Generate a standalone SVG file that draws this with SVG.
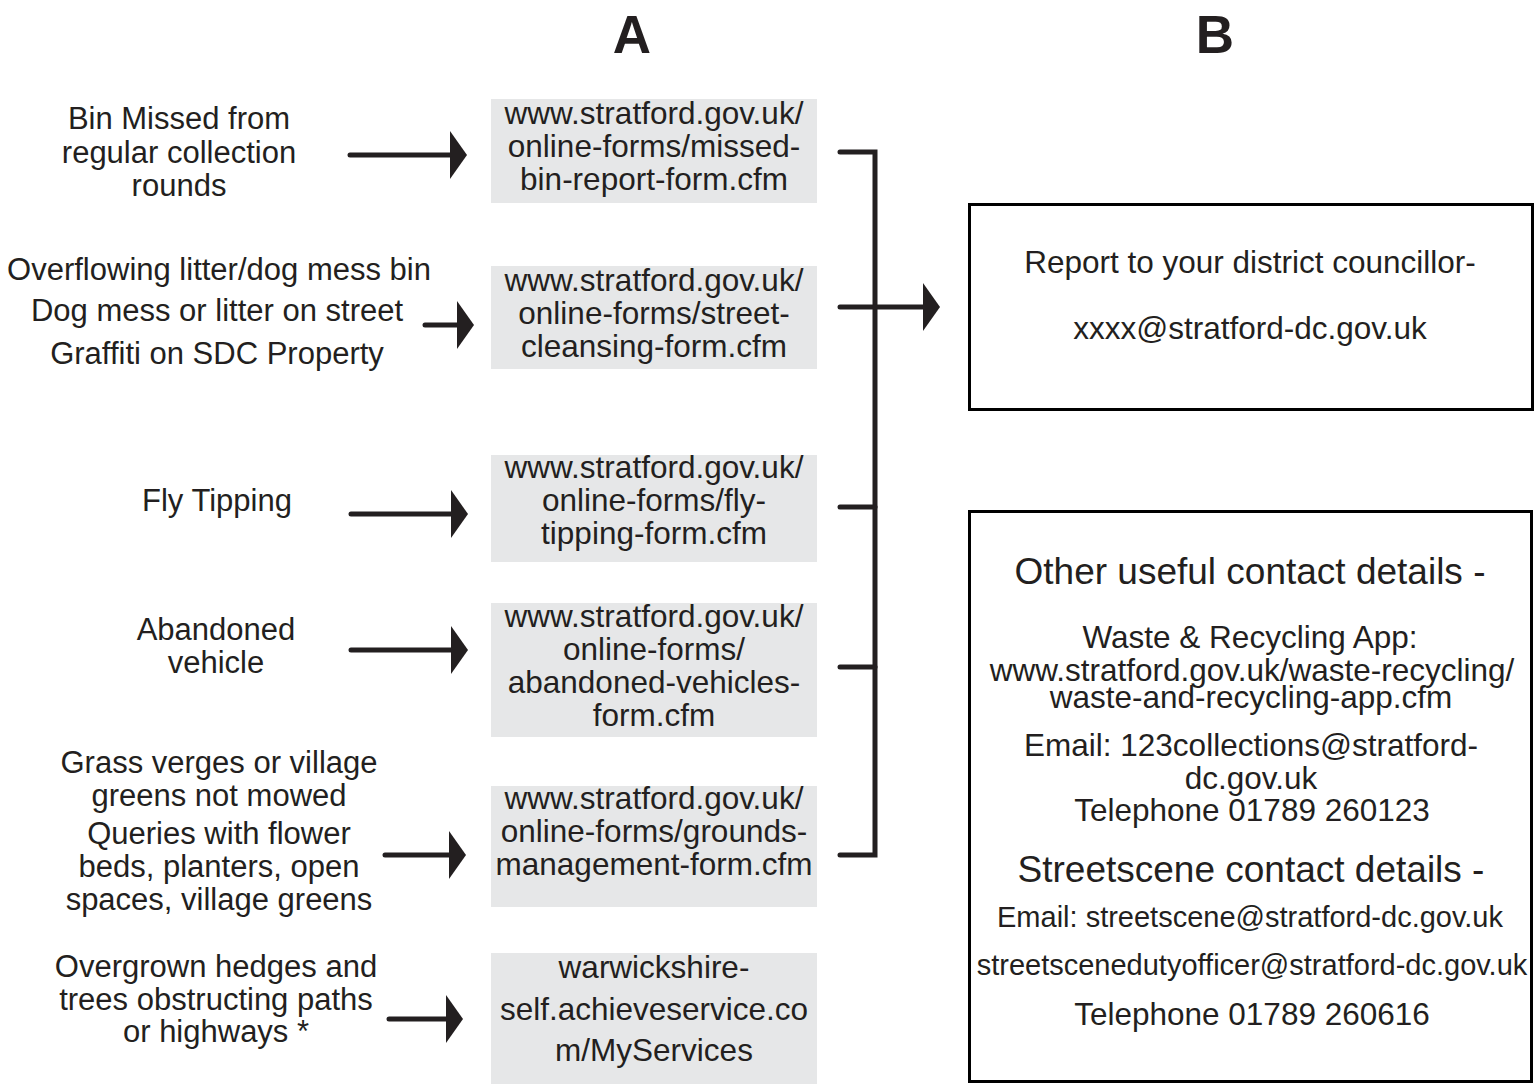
<svg xmlns="http://www.w3.org/2000/svg" width="1536" height="1084" viewBox="0 0 1536 1084">
<style>
text{font-family:"Liberation Sans",Arial,sans-serif;fill:#231f20;text-anchor:middle}
.l{font-size:31px}
.u{font-size:31.5px}
.r{font-size:31.5px}
.h{font-size:37px}
.s{font-size:29px}
.t{font-size:53px;font-weight:bold}
.g{fill:#e6e7e8}
.bx{fill:#fff;stroke:#000;stroke-width:3}
.c{fill:none;stroke:#231f20;stroke-width:5;stroke-linecap:round}
</style>
<defs>
<marker id="ah" viewBox="0 0 17 48" markerWidth="17" markerHeight="48" markerUnits="userSpaceOnUse" refX="9" refY="24" orient="auto">
<path d="M0,0 L17,24 L0,48 Z" fill="#231f20"/>
</marker>
</defs>
<rect width="1536" height="1084" fill="#fff"/>
<g id="headers">
<text class="t" x="632" y="53">A</text>
<text class="t" x="1215" y="53">B</text>
</g>
<g id="issue-bin">
<text class="l" x="179" y="129">Bin Missed from</text>
<text class="l" x="179" y="163">regular collection</text>
<text class="l" x="179" y="196">rounds</text>
</g>
<g id="issue-street">
<text class="l" x="219" y="280">Overflowing litter/dog mess bin</text>
<text class="l" x="217" y="321">Dog mess or litter on street</text>
<text class="l" x="217" y="364">Graffiti on SDC Property</text>
</g>
<g id="issue-fly">
<text class="l" x="217" y="511">Fly Tipping</text>
</g>
<g id="issue-vehicle">
<text class="l" x="216" y="640">Abandoned</text>
<text class="l" x="216" y="673">vehicle</text>
</g>
<g id="issue-grass">
<text class="l" x="219" y="773">Grass verges or village</text>
<text class="l" x="219" y="806">greens not mowed</text>
<text class="l" x="219" y="844">Queries with flower</text>
<text class="l" x="219" y="877">beds, planters, open</text>
<text class="l" x="219" y="910">spaces, village greens</text>
</g>
<g id="issue-hedges">
<text class="l" x="216" y="977">Overgrown hedges and</text>
<text class="l" x="216" y="1010">trees obstructing paths</text>
<text class="l" x="216" y="1042">or highways *</text>
</g>
<g id="form-bin">
<rect class="g" x="491" y="99" width="326" height="104"/>
<text class="u" x="654" y="124">www.stratford.gov.uk/</text>
<text class="u" x="654" y="157">online-forms/missed-</text>
<text class="u" x="654" y="190">bin-report-form.cfm</text>
</g>
<g id="form-street">
<rect class="g" x="491" y="266" width="326" height="103"/>
<text class="u" x="654" y="291">www.stratford.gov.uk/</text>
<text class="u" x="654" y="324">online-forms/street-</text>
<text class="u" x="654" y="357">cleansing-form.cfm</text>
</g>
<g id="form-fly">
<rect class="g" x="491" y="455" width="326" height="107"/>
<text class="u" x="654" y="478">www.stratford.gov.uk/</text>
<text class="u" x="654" y="511">online-forms/fly-</text>
<text class="u" x="654" y="544">tipping-form.cfm</text>
</g>
<g id="form-vehicle">
<rect class="g" x="491" y="603" width="326" height="134"/>
<text class="u" x="654" y="627">www.stratford.gov.uk/</text>
<text class="u" x="654" y="660">online-forms/</text>
<text class="u" x="654" y="693">abandoned-vehicles-</text>
<text class="u" x="654" y="726">form.cfm</text>
</g>
<g id="form-grounds">
<rect class="g" x="491" y="786" width="326" height="121"/>
<text class="u" x="654" y="809">www.stratford.gov.uk/</text>
<text class="u" x="654" y="842">online-forms/grounds-</text>
<text class="u" x="654" y="875">management-form.cfm</text>
</g>
<g id="form-hedges">
<rect class="g" x="491" y="953" width="326" height="131"/>
<text class="u" x="654" y="978">warwickshire-</text>
<text class="u" x="654" y="1020">self.achieveservice.co</text>
<text class="u" x="654" y="1061">m/MyServices</text>
</g>
<g id="councillor">
<rect class="bx" x="969.5" y="204.5" width="563" height="205"/>
<text class="r" x="1250" y="273">Report to your district councillor-</text>
<text class="r" x="1250" y="339">xxxx@stratford-dc.gov.uk</text>
</g>
<g id="contacts">
<rect class="bx" x="969.5" y="511.5" width="562" height="570"/>
<text class="h" x="1250" y="584">Other useful contact details -</text>
<text class="r" x="1250" y="648">Waste &amp; Recycling App:</text>
<text class="r" x="1252" y="681">www.stratford.gov.uk/waste-recycling/</text>
<text class="r" x="1251" y="708">waste-and-recycling-app.cfm</text>
<text class="r" x="1251" y="756">Email: 123collections@stratford-</text>
<text class="r" x="1251" y="789">dc.gov.uk</text>
<text class="r" x="1252" y="821">Telephone 01789 260123</text>
<text class="h" x="1251" y="882">Streetscene contact details -</text>
<text class="s" x="1250" y="927">Email: streetscene@stratford-dc.gov.uk</text>
<text class="s" x="1252" y="975">streetscenedutyofficer@stratford-dc.gov.uk</text>
<text class="r" x="1252" y="1025">Telephone 01789 260616</text>
</g>
<g id="connectors">
<line class="c" x1="350" y1="155" x2="459" y2="155" marker-end="url(#ah)"/>
<line class="c" x1="425" y1="325" x2="466" y2="325" marker-end="url(#ah)"/>
<line class="c" x1="351" y1="514" x2="460" y2="514" marker-end="url(#ah)"/>
<line class="c" x1="351" y1="650" x2="460" y2="650" marker-end="url(#ah)"/>
<line class="c" x1="385" y1="855" x2="458" y2="855" marker-end="url(#ah)"/>
<line class="c" x1="389" y1="1019" x2="455" y2="1019" marker-end="url(#ah)"/>
<path class="c" style="stroke-linejoin:miter" d="M840,152 H875 V855 H840"/>
<line class="c" x1="840" y1="307" x2="875" y2="307"/>
<line class="c" x1="840" y1="507" x2="875" y2="507"/>
<line class="c" x1="840" y1="667" x2="875" y2="667"/>
<line class="c" x1="875" y1="307" x2="932" y2="307" marker-end="url(#ah)"/>
</g>
</svg>
